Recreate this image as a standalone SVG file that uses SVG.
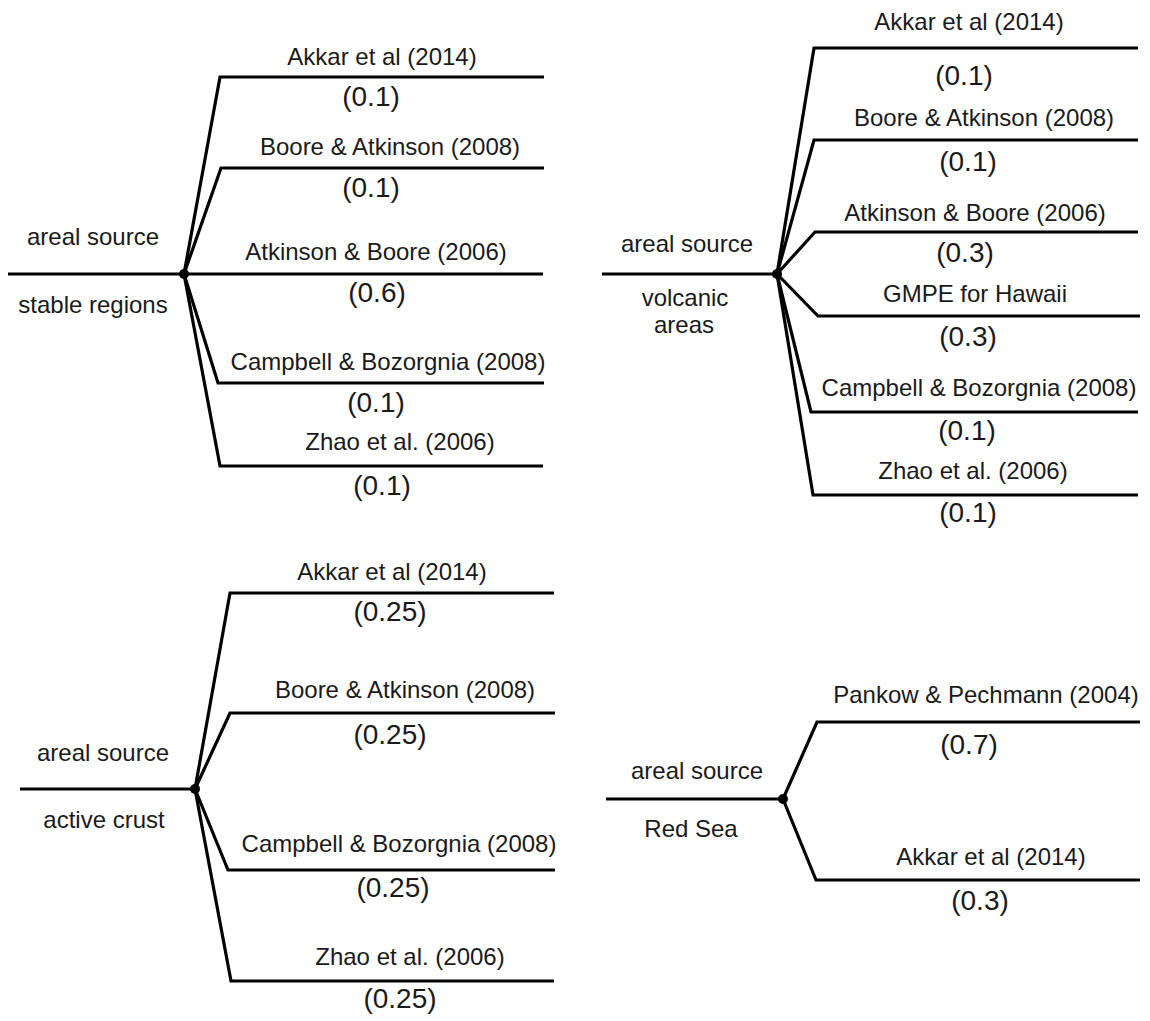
<svg xmlns="http://www.w3.org/2000/svg" width="1150" height="1021" viewBox="0 0 1150 1021">
<style>
.bg{fill:#fff}
.c{fill:none;stroke:#000;stroke-width:3.2;stroke-linejoin:miter;stroke-linecap:butt}
.lb{font-family:"Liberation Sans",Arial,sans-serif;font-size:24px;fill:#1a1a1a;text-anchor:middle}
.w{font-family:"Liberation Sans",Arial,sans-serif;font-size:28px;fill:#1a1a1a;text-anchor:middle}
.dot{fill:#000}
</style>
<rect class="bg" x="0" y="0" width="1150" height="1021"/>
<g id="connectors">
  <!-- tree 1: stable regions -->
  <path class="c" d="M8 274 H184"/>
  <path class="c" d="M184 274 L220 77 H544"/>
  <path class="c" d="M184 274 L221 168 H544"/>
  <path class="c" d="M184 274 H543"/>
  <path class="c" d="M184 274 L218 383 H544"/>
  <path class="c" d="M184 274 L220 466 H543"/>
  <!-- tree 2: volcanic areas -->
  <path class="c" d="M602 274 H777"/>
  <path class="c" d="M777 274 L814 48 H1138"/>
  <path class="c" d="M777 274 L814 140 H1138"/>
  <path class="c" d="M777 274 L815 232 H1138"/>
  <path class="c" d="M777 274 L818 316 H1140"/>
  <path class="c" d="M777 274 L811 412 H1138"/>
  <path class="c" d="M777 274 L813 495 H1138"/>
  <!-- tree 3: active crust -->
  <path class="c" d="M20 789 H195"/>
  <path class="c" d="M195 789 L230 593 H554"/>
  <path class="c" d="M195 789 L230 713 H555"/>
  <path class="c" d="M195 789 L228 870 H555"/>
  <path class="c" d="M195 789 L231 981 H554"/>
  <!-- tree 4: Red Sea -->
  <path class="c" d="M606 799 H783"/>
  <path class="c" d="M783 799 L817 722 H1140"/>
  <path class="c" d="M783 799 L816 880 H1140"/>
</g>
<g id="root-stable">
  <circle class="dot" cx="184" cy="274" r="5"/>
  <text class="lb" x="93" y="245">areal source</text>
  <text class="lb" x="93" y="313">stable regions</text>
</g>
<g id="s-akkar"><text class="lb" x="382" y="65">Akkar et al (2014)</text><text class="w" x="371" y="106">(0.1)</text></g>
<g id="s-boore"><text class="lb" x="390" y="155">Boore &amp; Atkinson (2008)</text><text class="w" x="371" y="197">(0.1)</text></g>
<g id="s-atkinson"><text class="lb" x="376" y="260">Atkinson &amp; Boore (2006)</text><text class="w" x="377" y="302">(0.6)</text></g>
<g id="s-campbell"><text class="lb" x="388" y="370">Campbell &amp; Bozorgnia (2008)</text><text class="w" x="376" y="412">(0.1)</text></g>
<g id="s-zhao"><text class="lb" x="400" y="450">Zhao et al. (2006)</text><text class="w" x="382" y="495">(0.1)</text></g>

<g id="root-volcanic">
  <circle class="dot" cx="777" cy="274" r="5"/>
  <text class="lb" x="687" y="252">areal source</text>
  <text class="lb" x="685" y="306">volcanic</text>
  <text class="lb" x="684" y="333">areas</text>
</g>
<g id="v-akkar"><text class="lb" x="969" y="30">Akkar et al (2014)</text><text class="w" x="964" y="85">(0.1)</text></g>
<g id="v-boore"><text class="lb" x="984" y="126">Boore &amp; Atkinson (2008)</text><text class="w" x="968" y="171">(0.1)</text></g>
<g id="v-atkinson"><text class="lb" x="975" y="221">Atkinson &amp; Boore (2006)</text><text class="w" x="965" y="262">(0.3)</text></g>
<g id="v-hawaii"><text class="lb" x="975" y="302">GMPE for Hawaii</text><text class="w" x="968" y="346">(0.3)</text></g>
<g id="v-campbell"><text class="lb" x="979" y="396">Campbell &amp; Bozorgnia (2008)</text><text class="w" x="967" y="440">(0.1)</text></g>
<g id="v-zhao"><text class="lb" x="973" y="479">Zhao et al. (2006)</text><text class="w" x="968" y="522">(0.1)</text></g>

<g id="root-active">
  <circle class="dot" cx="195" cy="789" r="5"/>
  <text class="lb" x="103" y="761">areal source</text>
  <text class="lb" x="104" y="828">active crust</text>
</g>
<g id="a-akkar"><text class="lb" x="392" y="580">Akkar et al (2014)</text><text class="w" x="390" y="621">(0.25)</text></g>
<g id="a-boore"><text class="lb" x="405" y="698">Boore &amp; Atkinson (2008)</text><text class="w" x="390" y="744">(0.25)</text></g>
<g id="a-campbell"><text class="lb" x="399" y="852">Campbell &amp; Bozorgnia (2008)</text><text class="w" x="393" y="897">(0.25)</text></g>
<g id="a-zhao"><text class="lb" x="410" y="965">Zhao et al. (2006)</text><text class="w" x="400" y="1008">(0.25)</text></g>

<g id="root-redsea">
  <circle class="dot" cx="783" cy="799" r="5"/>
  <text class="lb" x="697" y="779">areal source</text>
  <text class="lb" x="691" y="837">Red Sea</text>
</g>
<g id="r-pankow"><text class="lb" x="986" y="703">Pankow &amp; Pechmann (2004)</text><text class="w" x="969" y="754">(0.7)</text></g>
<g id="r-akkar"><text class="lb" x="991" y="865">Akkar et al (2014)</text><text class="w" x="980" y="910">(0.3)</text></g>
</svg>
